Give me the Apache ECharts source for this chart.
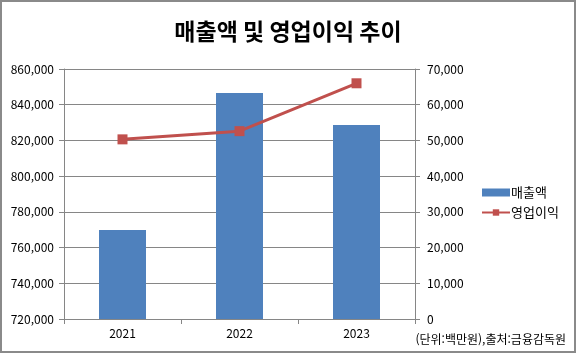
<!DOCTYPE html>
<html lang="ko">
<head>
  <meta charset="UTF-8">
  <title>매출액 및 영업이익 추이</title>
  <style>
    html, body { margin: 0; padding: 0; background: #fff; }
    #chart { width: 576px; height: 353px; }
  </style>
</head>
<body>
  <div id="chart"></div>
  <script src="https://cdn.jsdelivr.net/npm/echarts@6/dist/echarts.min.js"></script>
  <script>
    // 연도별 데이터 (단위: 백만원)
    const years = ['2021', '2022', '2023'];
    const sales = [769800, 846600, 828600];     // 매출액 (좌축)
    const profit = [50300, 52600, 66000];       // 영업이익 (우축)

    const font = '"Noto Sans CJK KR", "DejaVu Sans", sans-serif';
    const axisGray = '#868686';

    const fmt = v => v.toLocaleString('en-US');

    let chart = echarts.init(document.getElementById('chart'));
    chart.setOption({
      animation: false,
      title: {
        text: '매출액 및 영업이익 추이',
        left: 'center',
        top: 15,
        textStyle: { fontFamily: font, fontSize: 23, fontWeight: 'bold', color: '#000' }
      },
      graphic: [{
        type: 'rect',
        shape: { x: 1, y: 1, width: 574, height: 351 },
        style: { fill: 'none', stroke: '#8a8a8a', lineWidth: 2 },
        silent: true
      }, {
        type: 'text',
        right: 10,
        top: 333,
        style: { text: '(단위:백만원),출처:금융감독원', font: '12px ' + font, fill: '#000' }
      }],
      legend: {
        orient: 'vertical',
        left: 476,
        top: 181,
        itemGap: 7,
        itemWidth: 28,
        itemHeight: 8,
        textStyle: { fontFamily: font, fontSize: 13, color: '#000', padding: [0, 0, 0, -4] },
        data: [
          { name: '매출액', icon: 'rect' },
          { name: '영업이익' }
        ]
      },
      grid: { left: 64, right: 161, top: 69, bottom: 34 },
      xAxis: {
        type: 'category',
        data: years,
        axisLine: { lineStyle: { color: axisGray } },
        axisTick: { show: true, length: 5, lineStyle: { color: axisGray } },
        axisLabel: { color: '#000', fontFamily: font, fontSize: 12, margin: 8 }
      },
      yAxis: [{
        type: 'value',
        min: 720000,
        max: 860000,
        interval: 20000,
        axisLine: { show: true, lineStyle: { color: axisGray } },
        axisTick: { show: true, length: 5, lineStyle: { color: axisGray } },
        splitLine: { lineStyle: { color: axisGray } },
        axisLabel: { color: '#000', fontFamily: font, fontSize: 12, margin: 10, formatter: fmt }
      }, {
        type: 'value',
        min: 0,
        max: 70000,
        interval: 10000,
        axisLine: { show: true, lineStyle: { color: axisGray } },
        axisTick: { show: true, length: 5, lineStyle: { color: axisGray } },
        splitLine: { show: false },
        axisLabel: { color: '#000', fontFamily: font, fontSize: 12, margin: 12, formatter: fmt }
      }],
      series: [{
        name: '매출액',
        type: 'bar',
        data: sales,
        barWidth: 47,
        itemStyle: { color: '#4f81bd' }
      }, {
        name: '영업이익',
        type: 'line',
        yAxisIndex: 1,
        data: profit,
        symbol: 'rect',
        symbolSize: 10,
        lineStyle: { color: '#c0504d', width: 3 },
        itemStyle: { color: '#c0504d' }
      }]
    });
  </script>
</body>
</html>
